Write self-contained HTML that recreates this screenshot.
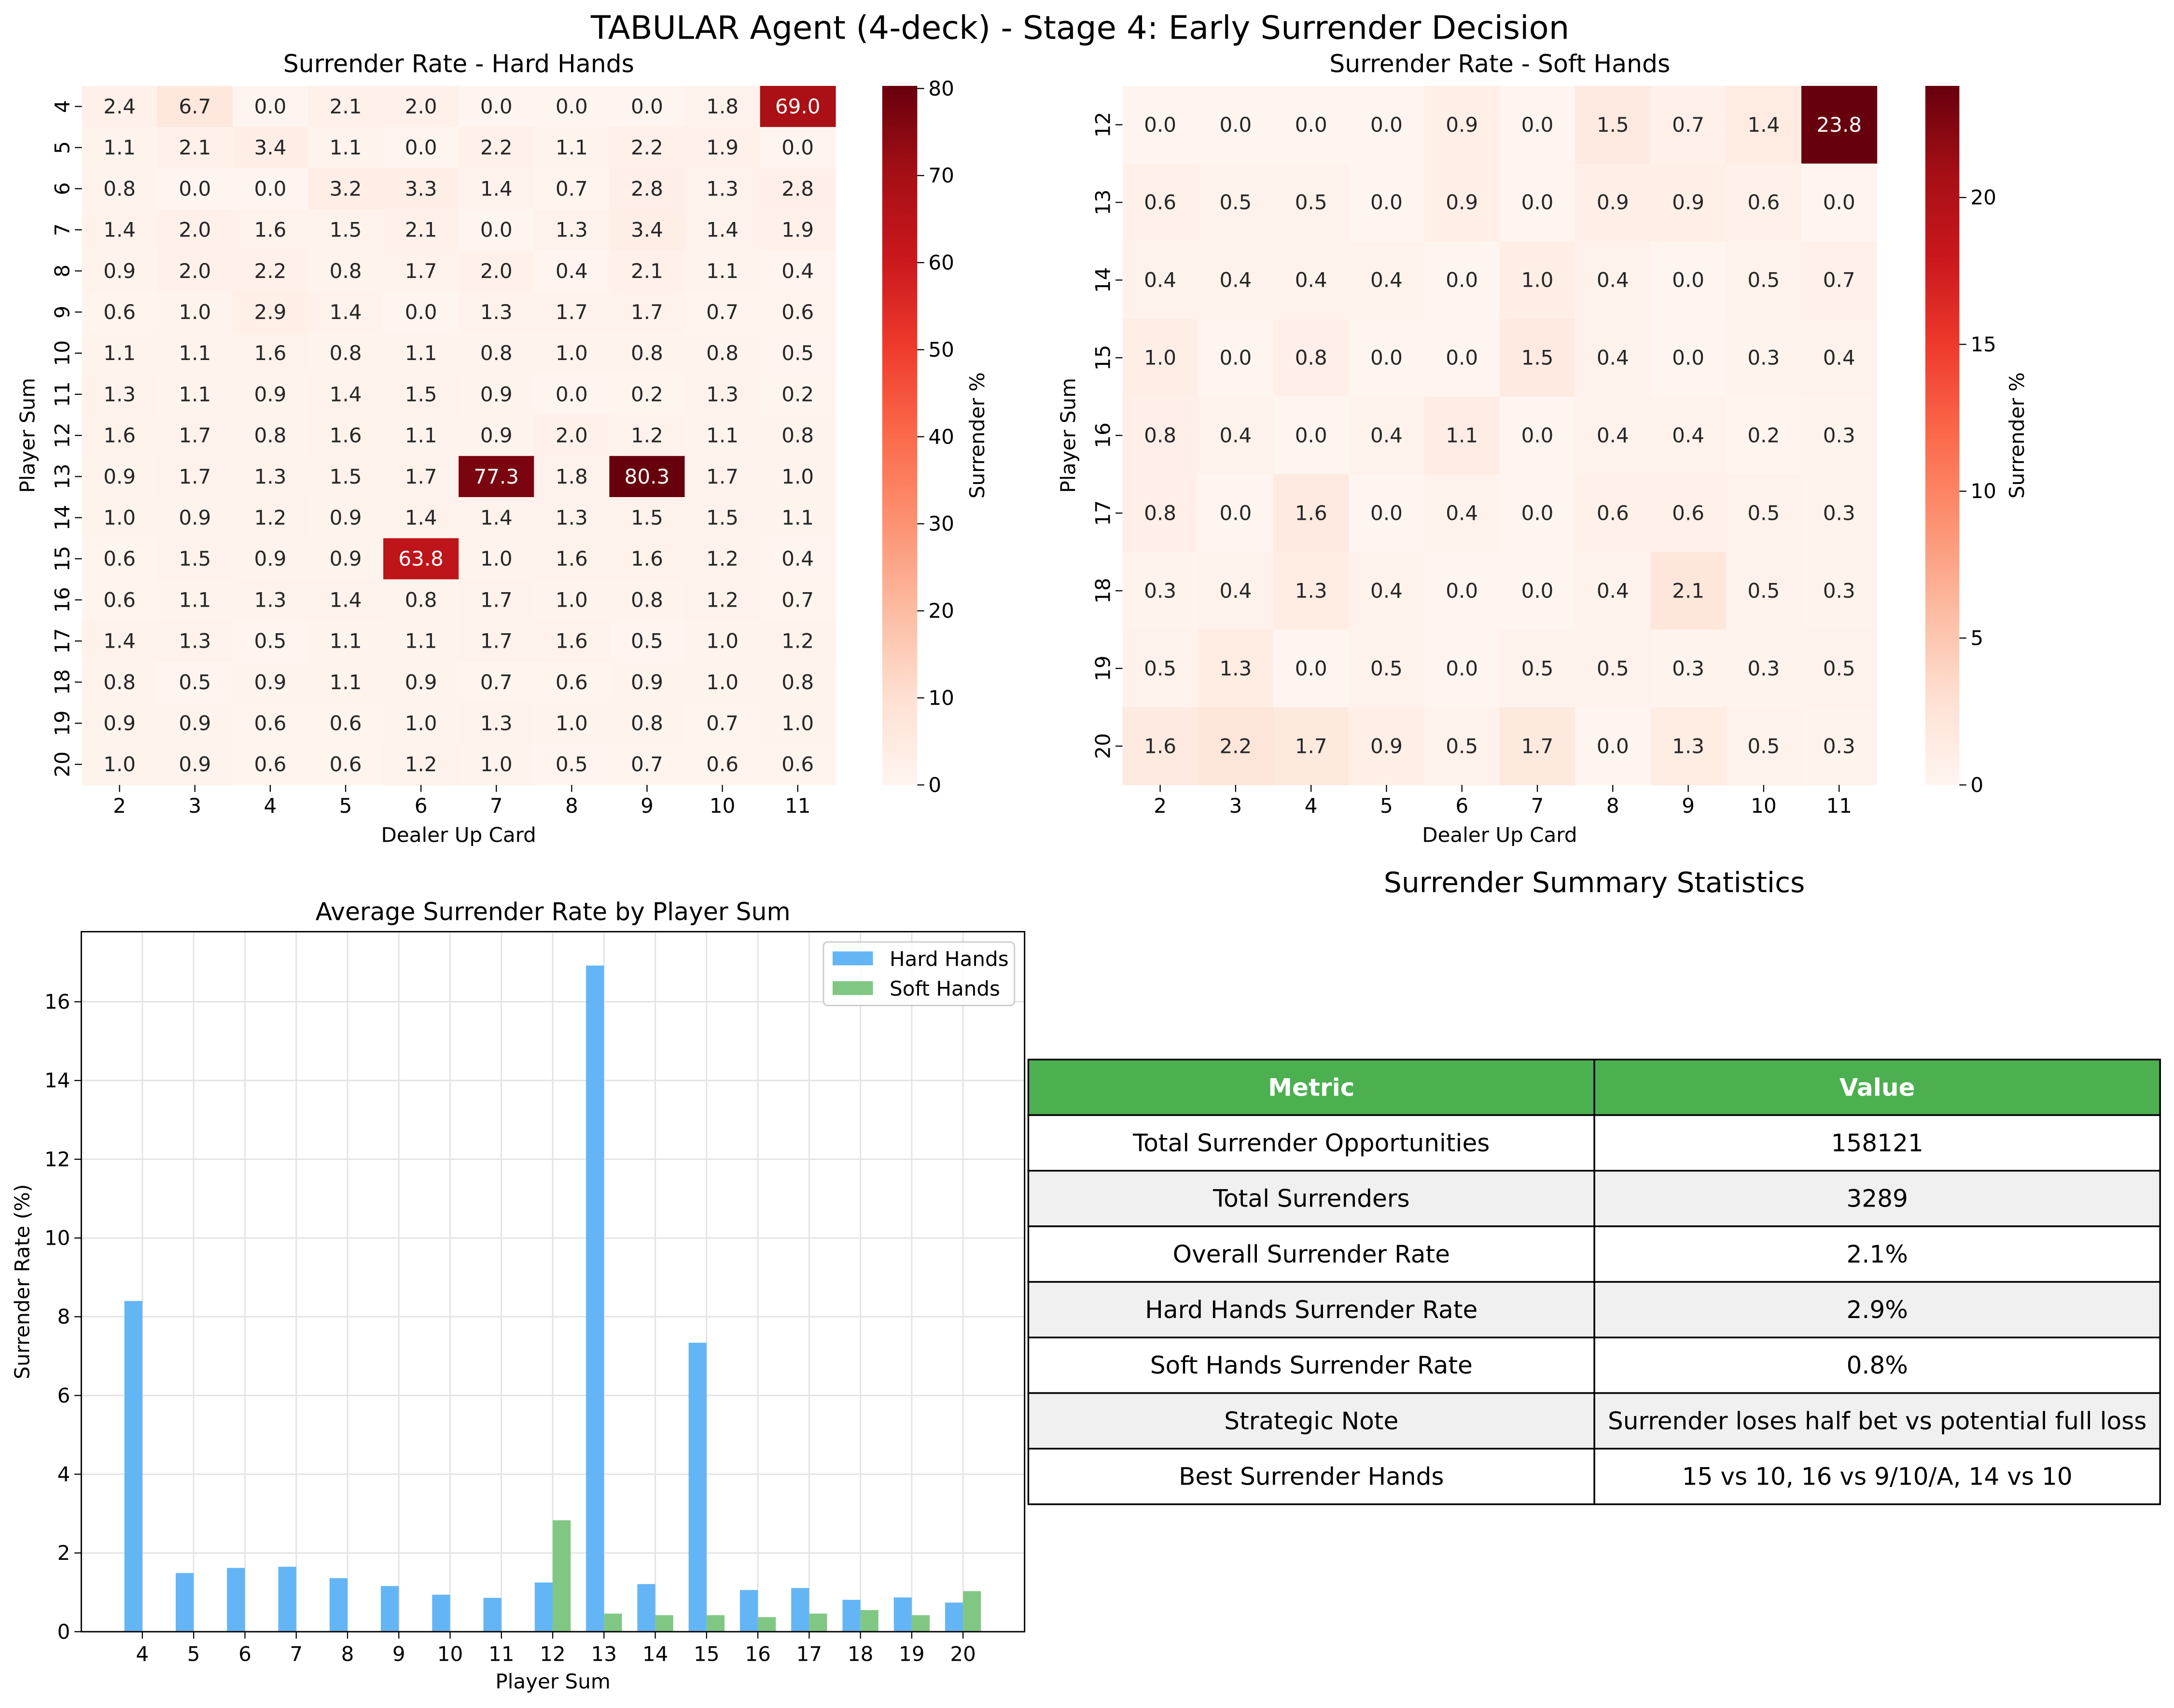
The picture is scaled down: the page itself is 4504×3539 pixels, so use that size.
<!DOCTYPE html>
<html><head><meta charset="utf-8"><style>
html,body{margin:0;padding:0;background:#fff;}
svg{display:block;}
text{font-family:"DejaVu Sans","Liberation Sans",sans-serif;}
</style></head><body>
<svg id="fig" xmlns="http://www.w3.org/2000/svg" width="4504" height="3539" viewBox="0 0 1564 1229" preserveAspectRatio="none">
<defs>
<linearGradient id="reds" x1="0" y1="1" x2="0" y2="0">
<stop offset="0" stop-color="#fff5f0"/><stop offset="0.125" stop-color="#fee0d2"/><stop offset="0.25" stop-color="#fcbba1"/><stop offset="0.375" stop-color="#fc9272"/><stop offset="0.5" stop-color="#fb6a4a"/><stop offset="0.625" stop-color="#ef3b2c"/><stop offset="0.75" stop-color="#cb181d"/><stop offset="0.875" stop-color="#a50f15"/><stop offset="1" stop-color="#67000d"/>
</linearGradient>
</defs>
<text x="777" y="28" font-size="23.3" text-anchor="middle" fill="#000">TABULAR Agent (4-deck) - Stage 4: Early Surrender Decision</text>
<g id="hard"></g><g id="soft"></g><g id="bars"></g><g id="table"></g>
</svg>
<script>
const dealerCards = [2,3,4,5,6,7,8,9,10,11];
const hardSums = [4,5,6,7,8,9,10,11,12,13,14,15,16,17,18,19,20];
const hardRates = [
[2.4,6.7,0.0,2.1,2.0,0.0,0.0,0.0,1.8,69.0],
[1.1,2.1,3.4,1.1,0.0,2.2,1.1,2.2,1.9,0.0],
[0.8,0.0,0.0,3.2,3.3,1.4,0.7,2.8,1.3,2.8],
[1.4,2.0,1.6,1.5,2.1,0.0,1.3,3.4,1.4,1.9],
[0.9,2.0,2.2,0.8,1.7,2.0,0.4,2.1,1.1,0.4],
[0.6,1.0,2.9,1.4,0.0,1.3,1.7,1.7,0.7,0.6],
[1.1,1.1,1.6,0.8,1.1,0.8,1.0,0.8,0.8,0.5],
[1.3,1.1,0.9,1.4,1.5,0.9,0.0,0.2,1.3,0.2],
[1.6,1.7,0.8,1.6,1.1,0.9,2.0,1.2,1.1,0.8],
[0.9,1.7,1.3,1.5,1.7,77.3,1.8,80.3,1.7,1.0],
[1.0,0.9,1.2,0.9,1.4,1.4,1.3,1.5,1.5,1.1],
[0.6,1.5,0.9,0.9,63.8,1.0,1.6,1.6,1.2,0.4],
[0.6,1.1,1.3,1.4,0.8,1.7,1.0,0.8,1.2,0.7],
[1.4,1.3,0.5,1.1,1.1,1.7,1.6,0.5,1.0,1.2],
[0.8,0.5,0.9,1.1,0.9,0.7,0.6,0.9,1.0,0.8],
[0.9,0.9,0.6,0.6,1.0,1.3,1.0,0.8,0.7,1.0],
[1.0,0.9,0.6,0.6,1.2,1.0,0.5,0.7,0.6,0.6]];
const softSums = [12,13,14,15,16,17,18,19,20];
const softRates = [
[0.0,0.0,0.0,0.0,0.9,0.0,1.5,0.7,1.4,23.8],
[0.6,0.5,0.5,0.0,0.9,0.0,0.9,0.9,0.6,0.0],
[0.4,0.4,0.4,0.4,0.0,1.0,0.4,0.0,0.5,0.7],
[1.0,0.0,0.8,0.0,0.0,1.5,0.4,0.0,0.3,0.4],
[0.8,0.4,0.0,0.4,1.1,0.0,0.4,0.4,0.2,0.3],
[0.8,0.0,1.6,0.0,0.4,0.0,0.6,0.6,0.5,0.3],
[0.3,0.4,1.3,0.4,0.0,0.0,0.4,2.1,0.5,0.3],
[0.5,1.3,0.0,0.5,0.0,0.5,0.5,0.3,0.3,0.5],
[1.6,2.2,1.7,0.9,0.5,1.7,0.0,1.3,0.5,0.3]];
const hardTicks = [0,10,20,30,40,50,60,70,80];
const softTicks = [0,5,10,15,20];
const barSums = [4,5,6,7,8,9,10,11,12,13,14,15,16,17,18,19,20];
const hardAvg = [8.40,1.49,1.62,1.65,1.36,1.16,0.94,0.86,1.25,16.92,1.21,7.34,1.06,1.11,0.81,0.87,0.74];
const softAvg = [0,0,0,0,0,0,0,0,2.83,0.46,0.42,0.42,0.37,0.46,0.55,0.42,1.03];
const barYTicks = [0,2,4,6,8,10,12,14,16];
const tableRows = [
["Total Surrender Opportunities","158121"],
["Total Surrenders","3289"],
["Overall Surrender Rate","2.1%"],
["Hard Hands Surrender Rate","2.9%"],
["Soft Hands Surrender Rate","0.8%"],
["Strategic Note","Surrender loses half bet vs potential full loss"],
["Best Surrender Hands","15 vs 10, 16 vs 9/10/A, 14 vs 10"]];

const FS=14.6;
const NS="http://www.w3.org/2000/svg";
function mk(parent,tag,attrs,txt){const e=document.createElementNS(NS,tag);if(tag==='text')e.setAttribute('fill','#000');for(const k in attrs)e.setAttribute(k,attrs[k]);if(txt!==undefined)e.textContent=txt;parent.appendChild(e);return e;}
const stops=[[0,[255,245,240]],[0.125,[254,224,210]],[0.25,[252,187,161]],[0.375,[252,146,114]],[0.5,[251,106,74]],[0.625,[239,59,44]],[0.75,[203,24,29]],[0.875,[165,15,21]],[1,[103,0,13]]];
function reds(t){t=Math.max(0,Math.min(1,t));for(let i=1;i<stops.length;i++){if(t<=stops[i][0]){const a=stops[i-1],b=stops[i];const f=(t-a[0])/(b[0]-a[0]);const c=a[1].map((v,j)=>Math.round(v+(b[1][j]-v)*f));return [`rgb(${c.join(',')})`,c];}}return ['rgb(103,0,13)',[103,0,13]];}
function lum(c){const l=c.map(v=>{v/=255;return v<=0.03928?v/12.92:Math.pow((v+0.055)/1.055,2.4);});return 0.2126*l[0]+0.7152*l[1]+0.0722*l[2];}

function heatmap(g,name,rows,rowLabels,L,R,T,B,cbL,cbR,ticks,cbLabelX){
  const vmax=Math.max(...rows.flat());
  const cw=(R-L)/dealerCards.length, rh=(B-T)/rowLabels.length;
  rows.forEach((row,i)=>row.forEach((v,j)=>{
    const [col,c]=reds(v/vmax);
    const r=mk(g,'rect',{x:L+j*cw,y:T+i*rh,width:cw+0.3,height:rh+0.3,fill:col});
    
    
    const t=mk(g,'text',{x:L+(j+0.5)*cw,y:T+(i+0.5)*rh+5,'font-size':FS,'text-anchor':'middle',fill:lum(c)<0.408?'#ffffff':'#262626'},v.toFixed(1));
    
    
  }));
  dealerCards.forEach((d,j)=>{const x=L+(j+0.5)*cw;mk(g,'line',{x1:x,x2:x,y1:B,y2:B+5,stroke:'#000','stroke-width':0.8});
    const t=mk(g,'text',{x:x,y:B+20,'font-size':FS,'text-anchor':'middle'},d);
    
    });
  rowLabels.forEach((s,i)=>{const y=T+(i+0.5)*rh;mk(g,'line',{x1:L-5,x2:L,y1:y,y2:y,stroke:'#000','stroke-width':0.8});
    const t=mk(g,'text',{x:L-9,y:y,'font-size':FS,'text-anchor':'middle',transform:`rotate(-90 ${L-9} ${y})`},s);
    
    });
  const xl=mk(g,'text',{x:(L+R)/2,y:B+41,'font-size':FS,'text-anchor':'middle'},'Dealer Up Card');
  
  
  const yl=mk(g,'text',{x:L-34,y:(T+B)/2,'font-size':FS,'text-anchor':'middle',transform:`rotate(-90 ${L-34} ${(T+B)/2})`},'Player Sum');
  
  
  const cb=mk(g,'rect',{x:cbL,y:T,width:cbR-cbL,height:B-T,fill:'url(#reds)'});
  
  
  ticks.forEach(tv=>{const y=B-(B-T)*tv/vmax;mk(g,'line',{x1:cbR,x2:cbR+5,y1:y,y2:y,stroke:'#000','stroke-width':0.8});
    const t=mk(g,'text',{x:cbR+8,y:y+5,'font-size':FS},tv);
    
    });
  const cl=mk(g,'text',{x:cbLabelX,y:(T+B)/2,'font-size':FS,'text-anchor':'middle',transform:`rotate(-90 ${cbLabelX} ${(T+B)/2})`},'Surrender %');
  
  
}
const hg=document.getElementById('hard');


const ht=mk(hg,'text',{x:330,y:52,'font-size':17.5,'text-anchor':'middle'},'Surrender Rate - Hard Hands');


heatmap(hg,'hard',hardRates,hardSums,58.9,601,61.8,564.8,634.7,659.9,hardTicks,708);
const sg=document.getElementById('soft');


const st=mk(sg,'text',{x:1079,y:52,'font-size':17.5,'text-anchor':'middle'},'Surrender Rate - Soft Hands');


heatmap(sg,'soft',softRates,softSums,807.5,1350.2,61.8,564.8,1385.1,1409.6,softTicks,1456);

// bar chart
const bg=document.getElementById('bars');


const AL=58.5,AR=737.1,AT=670.4,AB=1174.1,YMAX=17.78,XMIN=-1.19,XMAX=17.2;
const sx=i=>AL+(i-XMIN)/(XMAX-XMIN)*(AR-AL);
const sy=v=>AB-v/YMAX*(AB-AT);
const bw=(sx(0.35)-sx(0));
barYTicks.forEach(v=>{mk(bg,'line',{x1:AL,x2:AR,y1:sy(v),y2:sy(v),stroke:'#e3e3e3','stroke-width':1});
  mk(bg,'line',{x1:AL-5,x2:AL,y1:sy(v),y2:sy(v),stroke:'#000','stroke-width':0.8});
  const t=mk(bg,'text',{x:AL-8,y:sy(v)+5,'font-size':FS,'text-anchor':'end'},v);
  
  });
barSums.forEach((s,i)=>{mk(bg,'line',{x1:sx(i),x2:sx(i),y1:AT,y2:AB,stroke:'#e3e3e3','stroke-width':1});
  mk(bg,'line',{x1:sx(i),x2:sx(i),y1:AB,y2:AB+5,stroke:'#000','stroke-width':0.8});
  const t=mk(bg,'text',{x:sx(i),y:AB+21,'font-size':FS,'text-anchor':'middle'},s);
  
  });
hardAvg.forEach((v,i)=>{if(v<=0)return;const r=mk(bg,'rect',{x:sx(i)-bw,y:sy(v),width:bw,height:AB-sy(v),fill:'#64b5f6'});
  
  });
softAvg.forEach((v,i)=>{if(v<=0)return;const r=mk(bg,'rect',{x:sx(i),y:sy(v),width:bw,height:AB-sy(v),fill:'#81c784'});
  
  });
mk(bg,'rect',{x:AL,y:AT,width:AR-AL,height:AB-AT,fill:'none',stroke:'#000','stroke-width':1});
const bt=mk(bg,'text',{x:(AL+AR)/2,y:662,'font-size':17.5,'text-anchor':'middle'},'Average Surrender Rate by Player Sum');


const bxl=mk(bg,'text',{x:(AL+AR)/2,y:1215,'font-size':FS,'text-anchor':'middle'},'Player Sum');


const byl=mk(bg,'text',{x:21,y:(AT+AB)/2,'font-size':FS,'text-anchor':'middle',transform:`rotate(-90 21 ${(AT+AB)/2})`},'Surrender Rate (%)');


const lg=mk(bg,'g',{});


mk(lg,'rect',{x:592.4,y:677.8,width:137.4,height:45.7,rx:3,fill:'#fff','fill-opacity':0.8,stroke:'#ccc','stroke-width':1});
mk(lg,'rect',{x:599,y:684.6,width:29,height:10,fill:'#64b5f6'});
const l1=mk(lg,'text',{x:640,y:695,'font-size':FS},'Hard Hands');


mk(lg,'rect',{x:599,y:706,width:29,height:10,fill:'#81c784'});
const l2=mk(lg,'text',{x:640,y:716.5,'font-size':FS},'Soft Hands');



// table
const tg=document.getElementById('table');


const tt=mk(tg,'text',{x:1147,y:642,'font-size':20.2,'text-anchor':'middle'},'Surrender Summary Statistics');


const TL=739.8,TM=1147,TR=1554,TT0=762.4,RH=40.0;
const allRows=[["Metric","Value"]].concat(tableRows);
allRows.forEach((r,i)=>{const y=TT0+i*RH;const fill=i===0?'#4caf50':(i%2===0?'#f0f0f0':'#ffffff');
  mk(tg,'rect',{x:TL,y:y,width:TM-TL,height:RH,fill:fill,stroke:'#000','stroke-width':1.2});
  mk(tg,'rect',{x:TM,y:y,width:TR-TM,height:RH,fill:fill,stroke:'#000','stroke-width':1.2});
  [0,1].forEach(c=>{const cx=c===0?(TL+TM)/2:(TM+TR)/2;
    const t=mk(tg,'text',{x:cx,y:y+RH/2+6,'font-size':17.4,'text-anchor':'middle',fill:i===0?'#ffffff':'#000000','font-weight':i===0?'bold':'normal'},r[c]);
    
    });
});
</script>
</body></html>
